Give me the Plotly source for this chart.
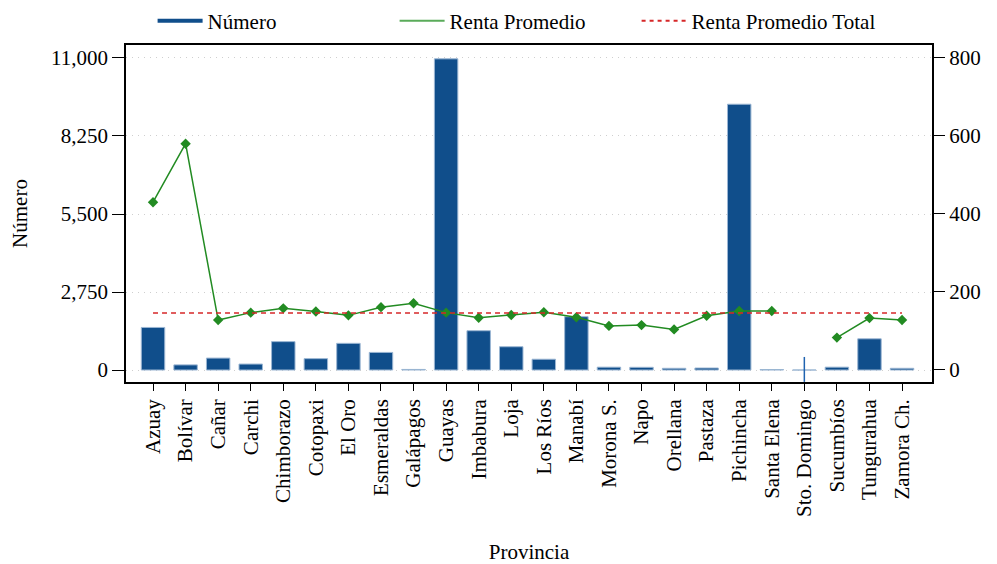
import plotly.graph_objects as go

provincias = ['Azuay', 'Bolívar', 'Cañar', 'Carchi', 'Chimborazo', 'Cotopaxi', 'El Oro',
              'Esmeraldas', 'Galápagos', 'Guayas', 'Imbabura', 'Loja', 'Los Ríos', 'Manabí',
              'Morona S.', 'Napo', 'Orellana', 'Pastaza', 'Pichincha', 'Santa Elena',
              'Sto. Domingo', 'Sucumbíos', 'Tungurahua', 'Zamora Ch.']
numero = [1500, 180, 420, 210, 1000, 400, 940, 620, 20, 10970, 1385, 820, 380, 1880,
          100, 95, 60, 70, 9370, 15, 0, 100, 1100, 60]
numero_err_up = [0, 0, 0, 0, 0, 0, 0, 0, 0, 0, 0, 0, 0, 0,
                 0, 0, 0, 0, 0, 0, 460, 0, 0, 0]
numero_err_down = [0, 0, 0, 0, 0, 0, 0, 0, 0, 0, 0, 0, 0, 0,
                   0, 0, 0, 0, 0, 0, 420, 0, 0, 0]
renta = [430, 580, 128, 147, 158, 150, 140, 161, 171, 147, 134, 141, 148, 135,
         113, 115, 104, 139, 151, 151, None, 83, 133, 128]
renta_total = 146

font = 'Liberation Serif'
blue = '#104e8b'
green = '#228b22'
red = '#d62728'

fig = go.Figure()

fig.add_trace(go.Bar(
    x=provincias, y=numero, width=0.72,
    marker=dict(color=blue, line=dict(color='#9bb6d3', width=1)),
    error_y=dict(type='data', array=numero_err_up, arrayminus=numero_err_down,
                 color='#1f63b0', thickness=1.5, width=0),
    showlegend=False, yaxis='y'))

fig.add_trace(go.Scatter(
    x=provincias, y=renta, mode='lines+markers', name='Renta Promedio',
    line=dict(color=green, width=1.5),
    marker=dict(symbol='diamond', size=8, color=green),
    showlegend=False, yaxis='y2'))

fig.add_trace(go.Scatter(
    x=provincias, y=[renta_total] * len(provincias), mode='lines',
    name='Renta Promedio Total', showlegend=False,
    line=dict(color=red, width=1.5, dash='5px,4px'),
    yaxis='y2'))

# legend entries drawn as plain lines
fig.add_trace(go.Scatter(x=[None], y=[None], mode='lines', name='Número',
                         line=dict(color=blue, width=4)))
fig.add_trace(go.Scatter(x=[None], y=[None], mode='lines', name='Renta Promedio',
                         line=dict(color='#5aab5a', width=2)))
fig.add_trace(go.Scatter(x=[None], y=[None], mode='lines', name='Renta Promedio Total',
                         line=dict(color=red, width=2, dash='4px,4px')))

# page body has an 8px margin, so the figure is sized/margined to compensate
fig.update_layout(
    width=989, height=556,
    margin=dict(l=118, r=65, t=37, b=182, autoexpand=False),
    plot_bgcolor='white', paper_bgcolor='white',
    font=dict(family=font, size=21, color='black'),
    legend=dict(orientation='h', x=0.033, xanchor='left', y=1.01, yanchor='bottom',
                font=dict(size=21), entrywidth=182, itemwidth=45,
                bgcolor='rgba(0,0,0,0)'),
    xaxis=dict(
        title=dict(text='Provincia', font=dict(size=21), standoff=29),
        range=[-0.83, 23.92], tickangle=-90, automargin=False,
        showline=True, linecolor='black', linewidth=1.5, mirror=True,
        ticks='outside', ticklen=7, tickcolor='black', showgrid=False,
    ),
    yaxis=dict(
        title=dict(text='Número', font=dict(size=21), standoff=19),
        range=[-423, 11458], tickvals=[0, 2750, 5500, 8250, 11000], tickformat=',',
        automargin=False,
        showline=True, linecolor='black', linewidth=1.5, mirror=True,
        ticks='outside', ticklen=12, tickcolor='black',
        showgrid=True, gridcolor='#cfcfcf', griddash='1px,5px', gridwidth=1, zeroline=False,
    ),
    yaxis2=dict(
        overlaying='y', side='right', range=[-30.8, 833],
        tickvals=[0, 200, 400, 600, 800], automargin=False,
        showline=False, ticks='outside', ticklen=12, tickcolor='black',
        showgrid=False, zeroline=False,
    ),
)

fig.write_html('out.html')
